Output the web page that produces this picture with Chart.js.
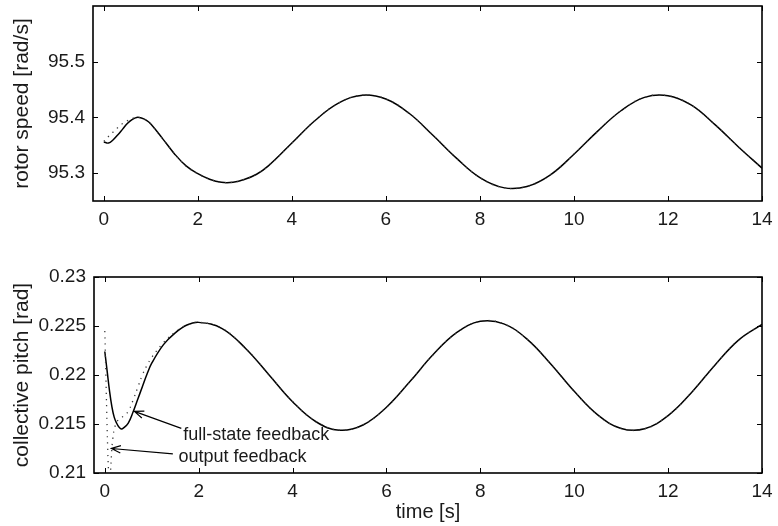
<!DOCTYPE html>
<html><head><meta charset="utf-8">
<script src="https://cdn.jsdelivr.net/npm/chart.js@4.4.1/dist/chart.umd.min.js"></script>
<style>
html,body{margin:0;padding:0;background:#fff;}
body{width:778px;height:526px;overflow:hidden;position:relative;}
canvas{position:absolute;left:0;}
#c1{top:0;} #c2{top:260px;}
</style></head>
<body>
<canvas id="c1" width="778" height="250"></canvas>
<canvas id="c2" width="778" height="266"></canvas>
<script>
// ---- data ----
const xTicks = [0, 2, 4, 6, 8, 10, 12, 14];
const xTickLabels = ['0', '2', '4', '6', '8', '10', '12', '14'];
const topYTicks = [95.3, 95.4, 95.5];
const topYTickLabels = ['95.3', '95.4', '95.5'];
const botYTicks = [0.21, 0.215, 0.22, 0.225, 0.23];
const botYTickLabels = ['0.21', '0.215', '0.22', '0.225', '0.23'];

// rotor speed, full-state feedback (solid)
const topTimeFull = [0,0.1,0.2,0.3,0.4,0.5,0.6,0.7,0.8,0.9,1.0,1.25,1.5,1.75,2.0,2.25,2.5,2.75,3.0,3.25,3.5,4.0,4.5,5.0,5.5,6.0,6.5,7.0,7.5,8.0,8.5,9.0,9.5,10.0,10.5,11.0,11.5,12.0,12.5,13.0,13.5,14.0];
const topFull = [95.356,95.354,95.360,95.369,95.379,95.389,95.396,95.400,95.399,95.395,95.388,95.362,95.335,95.313,95.299,95.289,95.2836,95.2837,95.289,95.298,95.313,95.354,95.395,95.426,95.440,95.433,95.407,95.368,95.327,95.292,95.274,95.276,95.297,95.334,95.375,95.412,95.436,95.439,95.422,95.387,95.347,95.309];
// rotor speed, output feedback (dotted)
const topTimeOut = [0,0.1,0.2,0.3,0.4,0.5,0.6,0.7,0.8,0.9,1.0,1.25,1.5,1.75,2.0,2.25,2.5,2.75,3.0,3.25,3.5,4.0,4.5,5.0,5.5,6.0,6.5,7.0,7.5,8.0,8.5,9.0,9.5,10.0,10.5,11.0,11.5,12.0,12.5,13.0,13.5,14.0];
const topOut = [95.357,95.366,95.374,95.382,95.389,95.394,95.398,95.400,95.399,95.395,95.388,95.362,95.335,95.313,95.299,95.289,95.2836,95.2837,95.289,95.298,95.313,95.354,95.395,95.426,95.440,95.433,95.407,95.368,95.327,95.292,95.274,95.276,95.297,95.334,95.375,95.412,95.436,95.439,95.422,95.387,95.347,95.309];

// collective pitch, full-state feedback (solid)
const botTimeFull = [0,0.05,0.1,0.15,0.2,0.25,0.3,0.35,0.4,0.5,0.6,0.7,0.8,0.9,1.0,1.25,1.5,1.75,2.0,2.5,3.0,3.5,4.0,4.5,5.0,5.5,6.0,6.5,7.0,7.5,8.0,8.5,9.0,9.5,10.0,10.5,11.0,11.5,12.0,12.5,13.0,13.5,14.0];
const botFull = [0.2224,0.2204,0.2184,0.2168,0.2157,0.2151,0.2147,0.2145,0.2146,0.2151,0.2162,0.2175,0.2188,0.2201,0.2212,0.2231,0.2243,0.2251,0.22537,0.22474,0.22271,0.22001,0.21728,0.21523,0.21436,0.21490,0.21671,0.21933,0.22211,0.22434,0.22548,0.22522,0.22364,0.22113,0.21833,0.21593,0.21455,0.21451,0.21586,0.21822,0.22103,0.22356,0.22517];
// collective pitch, output feedback (dotted)
const botTimeOut = [0,0.02,0.04,0.06,0.08,0.1,0.12,0.14,0.17,0.22,0.3,0.4,0.5,0.6,0.7,0.8,0.9,1.0,1.25,1.5,1.75,2.0,2.5,3.0,3.5,4.0,4.5,5.0,5.5,6.0,6.5,7.0,7.5,8.0,8.5,9.0,9.5,10.0,10.5,11.0,11.5,12.0,12.5,13.0,13.5,14.0];
const botOut = [0.2245,0.2205,0.2165,0.2128,0.2102,0.2092,0.2100,0.2117,0.2135,0.2148,0.2155,0.2158,0.2163,0.2174,0.2187,0.2200,0.2210,0.2218,0.2233,0.2244,0.2251,0.22538,0.22475,0.22272,0.22002,0.21729,0.21524,0.21437,0.21490,0.21671,0.21933,0.22211,0.22434,0.22548,0.22522,0.22364,0.22113,0.21833,0.21593,0.21455,0.21451,0.21586,0.21822,0.22103,0.22356,0.22517];

const annTexts = ['full-state feedback', 'output feedback'];
const annTextPos = [[1.67, 0.21384], [1.57, 0.21163]];
const annArrowFrom = [[1.63, 0.21455], [1.45, 0.21195]];
const annArrowTo = [[0.63, 0.21629], [0.14, 0.21250]];

// ---- helpers ----
const FONT = "'Liberation Sans', Arial, Helvetica, sans-serif";
const pts = (t, v) => t.map((x, i) => ({x: x, y: v[i]}));

const framePlugin = {
  id: 'frame',
  afterDatasetsDraw(chart) {
    const {ctx, chartArea: a, scales: {x, y}} = chart;
    ctx.save();
    ctx.strokeStyle = '#000';
    ctx.lineWidth = 1;
    ctx.beginPath();
    x.ticks.forEach(t => {
      const p = Math.round(x.getPixelForValue(t.value)) + 0.5;
      ctx.moveTo(p, a.bottom); ctx.lineTo(p, a.bottom - 5);
      ctx.moveTo(p, a.top); ctx.lineTo(p, a.top + 5);
    });
    y.ticks.forEach(t => {
      const p = Math.round(y.getPixelForValue(t.value)) + 0.5;
      ctx.moveTo(a.left, p); ctx.lineTo(a.left + 5, p);
      ctx.moveTo(a.right, p); ctx.lineTo(a.right - 5, p);
    });
    ctx.stroke();
    ctx.lineWidth = 1.6;
    ctx.strokeRect(a.left, a.top, a.right - a.left, a.bottom - a.top);
    ctx.restore();
  }
};

function arrow(ctx, x1, y1, x2, y2) {
  const ang = Math.atan2(y2 - y1, x2 - x1);
  const L = 10, w = 0.38;
  ctx.beginPath();
  ctx.moveTo(x1, y1); ctx.lineTo(x2, y2);
  ctx.moveTo(x2 - L * Math.cos(ang - w), y2 - L * Math.sin(ang - w));
  ctx.lineTo(x2, y2);
  ctx.lineTo(x2 - L * Math.cos(ang + w), y2 - L * Math.sin(ang + w));
  ctx.stroke();
}

const annPlugin = {
  id: 'ann',
  afterDatasetsDraw(chart) {
    const {ctx, scales: {x, y}} = chart;
    ctx.save();
    ctx.fillStyle = '#1a1a1a';
    ctx.strokeStyle = '#000';
    ctx.lineWidth = 1.2;
    ctx.font = "18px " + FONT;
    ctx.textAlign = 'left';
    ctx.textBaseline = 'middle';
    annTexts.forEach((s, i) => {
      ctx.fillText(s, x.getPixelForValue(annTextPos[i][0]), y.getPixelForValue(annTextPos[i][1]));
      arrow(ctx,
        x.getPixelForValue(annArrowFrom[i][0]), y.getPixelForValue(annArrowFrom[i][1]),
        x.getPixelForValue(annArrowTo[i][0]), y.getPixelForValue(annArrowTo[i][1]));
    });
    ctx.restore();
  }
};

function makeChart(id, full, out, yMin, yMax, yTicks, yLabels, yTitle, opts) {
  return new Chart(document.getElementById(id), {
    type: 'line',
    data: {
      datasets: [
        {label: 'output feedback', data: out, borderColor: '#3a3a3a', borderWidth: 1.3,
         borderDash: [1.2, 5], pointRadius: 0, tension: 0.4, order: 0},
        {label: 'full-state feedback', data: full, borderColor: '#000', borderWidth: 1.5,
         pointRadius: 0, tension: 0.4, order: 1}
      ]
    },
    options: {
      responsive: false, animation: false, devicePixelRatio: 1,
      layout: {padding: {top: opts.padTop, right: 16, bottom: 0, left: 0}},
      plugins: {legend: {display: false}, tooltip: {enabled: false}},
      scales: {
        x: {
          type: 'linear', min: -0.23, max: 14,
          grid: {display: false, drawTicks: false}, border: {display: false},
          afterBuildTicks: s => { s.ticks = xTicks.map(v => ({value: v})); },
          afterFit: s => { s.height = opts.xHeight; s.paddingLeft = 0; s.paddingRight = 0; },
          ticks: {padding: 7, color: '#1a1a1a', font: {family: FONT, size: 19},
                  maxRotation: 0, autoSkip: false,
                  callback: (v, i) => xTickLabels[i]},
          title: opts.xTitle ? {display: true, text: opts.xTitle, color: '#1a1a1a',
                  font: {family: FONT, size: 20}, padding: {top: 0, bottom: 2}} : {display: false}
        },
        y: {
          type: 'linear', min: yMin, max: yMax,
          grid: {display: false, drawTicks: false}, border: {display: false},
          afterBuildTicks: s => { s.ticks = yTicks.map(v => ({value: v})); },
          afterFit: s => { s.width = opts.yWidth; s.paddingTop = 0; s.paddingBottom = 0; },
          ticks: {padding: 8, color: '#1a1a1a', font: {family: FONT, size: 19}, autoSkip: false,
                  callback: (v, i) => yLabels[i]},
          title: {display: true, text: yTitle, color: '#1a1a1a',
                  font: {family: FONT, size: 21}, padding: {top: 10, bottom: 0}}
        }
      }
    },
    plugins: opts.extra ? [framePlugin, annPlugin] : [framePlugin]
  });
}

makeChart('c1', pts(topTimeFull, topFull), pts(topTimeOut, topOut), 95.25, 95.6,
  topYTicks, topYTickLabels, 'rotor speed [rad/s]',
  {padTop: 6, xHeight: 49, yWidth: 93, extra: false});
makeChart('c2', pts(botTimeFull, botFull), pts(botTimeOut, botOut), 0.21, 0.23,
  botYTicks, botYTickLabels, 'collective pitch [rad]',
  {padTop: 17, xHeight: 53, yWidth: 94, extra: true, xTitle: 'time [s]'});
</script>
</body></html>
